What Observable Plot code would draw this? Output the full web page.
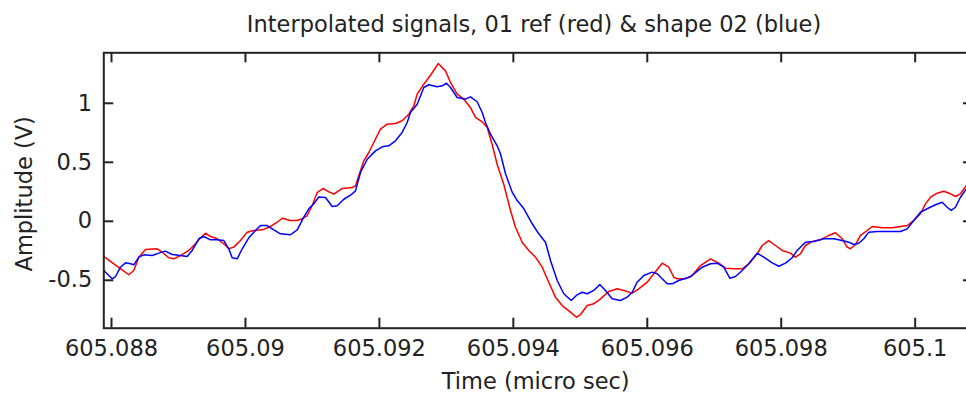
<!DOCTYPE html>
<html><head><meta charset="utf-8">
<script src="https://cdn.jsdelivr.net/npm/d3@7"></script>
<script src="https://cdn.jsdelivr.net/npm/@observablehq/plot@0.6"></script>
<style>
html,body{margin:0;padding:0;background:#fff;overflow:hidden;width:966px;height:402px;position:relative;}
#title{position:absolute;left:534px;top:0;transform:translateX(-50%);white-space:nowrap;font-family:"DejaVu Sans";font-size:22.5px;line-height:30px;padding-top:9px;color:#222;}
#chart{position:absolute;left:0;top:40px;width:980px;}
#chart svg{max-width:none !important;}
</style></head><body>
<div id="title"></div>
<div id="chart"></div>
<script>
const titleText = "Interpolated signals, 01 ref (red) & shape 02 (blue)";
const xLabel = "Time (micro sec)";
const yLabel = "Amplitude (V)";
const xTicks = [605.088, 605.09, 605.092, 605.094, 605.096, 605.098, 605.1];
const xTickLabels = ["605.088", "605.09", "605.092", "605.094", "605.096", "605.098", "605.1"];
const yTicks = [-0.5, 0, 0.5, 1];
const yTickLabels = ["-0.5", "0", "0.5", "1"];
const xDomain = [605.087885, 605.100871];
const yDomain = [-0.906, 1.428];

const refTime = [605.087885, 605.088034, 605.088160, 605.088258, 605.088333, 605.088408, 605.088508, 605.088682, 605.088757, 605.088856, 605.088930, 605.089030, 605.089154, 605.089254, 605.089329, 605.089404, 605.089478, 605.089578, 605.089677, 605.089751, 605.089826, 605.089926, 605.090026, 605.090125, 605.090274, 605.090374, 605.090474, 605.090549, 605.090673, 605.090773, 605.090847, 605.090922, 605.090997, 605.091071, 605.091161, 605.091245, 605.091319, 605.091445, 605.091594, 605.091643, 605.091692, 605.091767, 605.091842, 605.091916, 605.092016, 605.092116, 605.092240, 605.092340, 605.092439, 605.092514, 605.092564, 605.092663, 605.092763, 605.092878, 605.092987, 605.093062, 605.093162, 605.093260, 605.093360, 605.093435, 605.093535, 605.093610, 605.093684, 605.093759, 605.093858, 605.093958, 605.094032, 605.094132, 605.094231, 605.094331, 605.094431, 605.094529, 605.094629, 605.094729, 605.094853, 605.094943, 605.095003, 605.095103, 605.095201, 605.095301, 605.095425, 605.095551, 605.095649, 605.095775, 605.095873, 605.095999, 605.096097, 605.096223, 605.096321, 605.096396, 605.096447, 605.096570, 605.096670, 605.096794, 605.096944, 605.097068, 605.097168, 605.097292, 605.097417, 605.097516, 605.097641, 605.097716, 605.097814, 605.097914, 605.098014, 605.098138, 605.098213, 605.098288, 605.098362, 605.098462, 605.098586, 605.098710, 605.098810, 605.098910, 605.098985, 605.099034, 605.099109, 605.099183, 605.099283, 605.099358, 605.099507, 605.099657, 605.099781, 605.099881, 605.099979, 605.100079, 605.100154, 605.100229, 605.100329, 605.100427, 605.100527, 605.100602, 605.100676, 605.100766];
const refAmp = [-0.298, -0.360, -0.411, -0.453, -0.417, -0.304, -0.239, -0.233, -0.262, -0.309, -0.318, -0.290, -0.247, -0.191, -0.140, -0.101, -0.129, -0.148, -0.191, -0.233, -0.219, -0.163, -0.092, -0.078, -0.069, -0.044, -0.008, 0.026, 0.007, 0.007, 0.021, 0.049, 0.134, 0.244, 0.278, 0.250, 0.230, 0.278, 0.286, 0.301, 0.386, 0.513, 0.583, 0.668, 0.781, 0.823, 0.829, 0.852, 0.908, 0.979, 1.077, 1.162, 1.238, 1.337, 1.275, 1.176, 1.077, 1.035, 0.964, 0.880, 0.843, 0.795, 0.651, 0.481, 0.312, 0.092, -0.050, -0.177, -0.247, -0.304, -0.389, -0.516, -0.643, -0.714, -0.770, -0.813, -0.790, -0.714, -0.699, -0.657, -0.595, -0.572, -0.586, -0.609, -0.572, -0.516, -0.445, -0.355, -0.389, -0.474, -0.487, -0.487, -0.459, -0.375, -0.318, -0.355, -0.397, -0.403, -0.403, -0.360, -0.275, -0.205, -0.163, -0.205, -0.247, -0.270, -0.304, -0.275, -0.205, -0.171, -0.157, -0.120, -0.097, -0.148, -0.219, -0.233, -0.197, -0.120, -0.078, -0.044, -0.055, -0.055, -0.044, -0.036, 0.007, 0.064, 0.148, 0.204, 0.238, 0.255, 0.233, 0.210, 0.233, 0.303];

const shapeTime = [605.087885, 605.088010, 605.088060, 605.088134, 605.088209, 605.088284, 605.088333, 605.088408, 605.088482, 605.088608, 605.088706, 605.088806, 605.088906, 605.089030, 605.089130, 605.089205, 605.089304, 605.089378, 605.089478, 605.089578, 605.089677, 605.089751, 605.089802, 605.089877, 605.089952, 605.090050, 605.090150, 605.090225, 605.090325, 605.090423, 605.090523, 605.090673, 605.090773, 605.090871, 605.090946, 605.091021, 605.091095, 605.091195, 605.091295, 605.091370, 605.091469, 605.091569, 605.091643, 605.091718, 605.091818, 605.091942, 605.092042, 605.092140, 605.092240, 605.092340, 605.092415, 605.092464, 605.092564, 605.092663, 605.092738, 605.092863, 605.092938, 605.093002, 605.093062, 605.093162, 605.093286, 605.093360, 605.093460, 605.093535, 605.093584, 605.093659, 605.093759, 605.093808, 605.093883, 605.093983, 605.094058, 605.094156, 605.094282, 605.094380, 605.094480, 605.094555, 605.094655, 605.094753, 605.094864, 605.094953, 605.095028, 605.095103, 605.095201, 605.095291, 605.095376, 605.095476, 605.095600, 605.095700, 605.095775, 605.095849, 605.095948, 605.096073, 605.096148, 605.096223, 605.096297, 605.096372, 605.096470, 605.096645, 605.096820, 605.096944, 605.097044, 605.097142, 605.097232, 605.097317, 605.097417, 605.097516, 605.097641, 605.097740, 605.097865, 605.097964, 605.098064, 605.098164, 605.098238, 605.098362, 605.098486, 605.098635, 605.098785, 605.098910, 605.099009, 605.099083, 605.099158, 605.099233, 605.099307, 605.099433, 605.099631, 605.099781, 605.099881, 605.099979, 605.100079, 605.100179, 605.100303, 605.100403, 605.100478, 605.100538, 605.100602, 605.100676, 605.100766];
const shapeAmp = [-0.417, -0.487, -0.468, -0.389, -0.352, -0.360, -0.369, -0.304, -0.284, -0.290, -0.270, -0.253, -0.281, -0.290, -0.298, -0.247, -0.148, -0.129, -0.157, -0.157, -0.163, -0.233, -0.309, -0.318, -0.233, -0.140, -0.078, -0.036, -0.036, -0.072, -0.106, -0.114, -0.072, 0.035, 0.106, 0.148, 0.206, 0.202, 0.125, 0.131, 0.187, 0.221, 0.258, 0.414, 0.526, 0.597, 0.631, 0.640, 0.682, 0.753, 0.837, 0.922, 0.992, 1.134, 1.157, 1.140, 1.148, 1.170, 1.134, 1.049, 1.035, 1.055, 1.013, 0.922, 0.837, 0.738, 0.640, 0.572, 0.403, 0.247, 0.176, 0.108, -0.021, -0.106, -0.177, -0.332, -0.502, -0.614, -0.671, -0.623, -0.601, -0.614, -0.586, -0.536, -0.586, -0.657, -0.671, -0.643, -0.601, -0.516, -0.459, -0.431, -0.445, -0.487, -0.530, -0.530, -0.502, -0.470, -0.389, -0.360, -0.355, -0.389, -0.482, -0.468, -0.417, -0.360, -0.270, -0.304, -0.352, -0.381, -0.355, -0.309, -0.247, -0.177, -0.171, -0.148, -0.148, -0.163, -0.177, -0.197, -0.186, -0.148, -0.092, -0.086, -0.086, -0.086, -0.064, 0.007, 0.077, 0.106, 0.140, 0.162, 0.119, 0.092, 0.119, 0.204, 0.275];

const W = 975, H = 362, mL = 103.3, mR = 2, mT = 12.3, mB = 74.3;
const plotW = W - mL - mR, plotH = H - mT - mB;
const tickLen = 10;
const axisColor = "#222";

const refData = refTime.map((t, i) => ({t, v: refAmp[i]}));
const shapeData = shapeTime.map((t, i) => ({t, v: shapeAmp[i]}));

document.getElementById("title").textContent = titleText;

const chart = Plot.plot({
  width: W, height: H,
  marginLeft: mL, marginRight: mR, marginTop: mT, marginBottom: mB,
  style: {fontFamily: "'DejaVu Sans'", fontSize: "22.5px", color: axisColor, background: "#fff", maxWidth: "none"},
  x: {domain: xDomain},
  y: {domain: yDomain},
  marks: [
    Plot.line(refData, {x: "t", y: "v", stroke: "#ff0000", strokeWidth: 1.5}),
    Plot.line(shapeData, {x: "t", y: "v", stroke: "#0000ff", strokeWidth: 1.5}),
    Plot.tickX(xTicks, {x: d => d, insetTop: plotH - tickLen, stroke: axisColor, strokeWidth: 2}),
    Plot.tickX(xTicks, {x: d => d, insetBottom: plotH - tickLen, stroke: axisColor, strokeWidth: 2}),
    Plot.tickY(yTicks, {y: d => d, insetRight: plotW - tickLen, stroke: axisColor, strokeWidth: 2}),
    Plot.tickY(yTicks, {y: d => d, insetLeft: plotW - tickLen, stroke: axisColor, strokeWidth: 2}),
    Plot.frame({stroke: axisColor, strokeWidth: 2}),
    Plot.axisX({ticks: xTicks, tickFormat: d => xTickLabels[xTicks.indexOf(d)], tickSize: 0, tickPadding: 12, label: null, fontSize: 22.5}),
    Plot.axisY({ticks: yTicks, tickFormat: d => yTickLabels[yTicks.indexOf(d)], tickSize: 0, tickPadding: 11.6, label: null, fontSize: 22.5}),
    Plot.text([xLabel], {frameAnchor: "bottom", textAnchor: "middle", lineAnchor: "middle", dx: -3, dy: 53.6, fontSize: 22.5, fill: axisColor}),
    Plot.text([yLabel], {frameAnchor: "left", textAnchor: "middle", lineAnchor: "middle", rotate: -90, dx: -79.5, dy: 3.3, fontSize: 22.5, fill: axisColor})
  ]
});
document.getElementById("chart").appendChild(chart);
</script>
</body></html>
